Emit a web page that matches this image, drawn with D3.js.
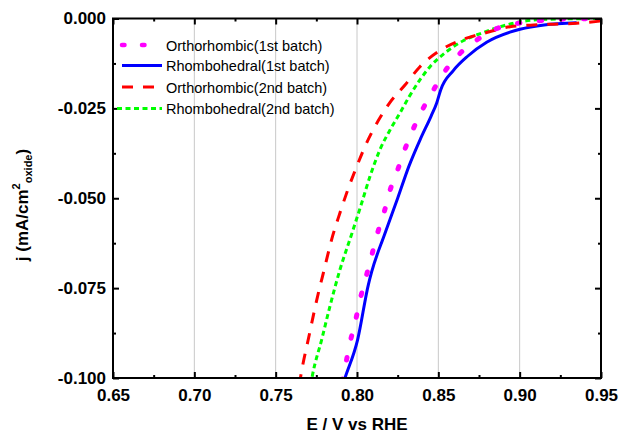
<!DOCTYPE html>
<html>
<head>
<meta charset="utf-8">
<script src="https://cdn.jsdelivr.net/npm/d3@7"></script>
<style>
  html, body { margin: 0; padding: 0; background: #fff; }
  svg { display: block; }
  .tick text { font-family: "Liberation Sans", Arial, sans-serif; font-weight: bold; font-size: 17px; fill: #000; }
  .tick line { stroke: #000; stroke-width: 2; }
</style>
</head>
<body>
<svg id="chart" width="622" height="433"></svg>
<script>
// Potential (V vs RHE) and current density (mA/cm^2 oxide) for each sample
const orthoFirstE = [0.791, 0.793, 0.7957, 0.799, 0.802, 0.8055, 0.809, 0.8125, 0.8166, 0.8203, 0.825, 0.8295, 0.8346, 0.8404, 0.8465, 0.8537, 0.8629, 0.873, 0.8838, 0.896, 0.9104, 0.9238, 0.95];
const orthoFirstJ = [-0.1010, -0.0963, -0.0902, -0.0842, -0.0780, -0.0720, -0.0660, -0.0599, -0.0540, -0.0478, -0.0421, -0.0363, -0.0307, -0.0252, -0.0203, -0.0149, -0.0099, -0.0062, -0.0032, -0.0016, -0.0007, -0.0002, 0.0000];

const rhomboFirstE = [0.790, 0.7926, 0.8004, 0.807, 0.809, 0.817, 0.825, 0.832, 0.839, 0.8455, 0.849, 0.8515, 0.8592, 0.868, 0.8797, 0.894, 0.9002, 0.915, 0.935];
const rhomboFirstJ = [-0.1036, -0.1000, -0.0893, -0.0740, -0.0705, -0.0600, -0.0500, -0.0410, -0.0335, -0.0272, -0.0235, -0.0198, -0.0145, -0.0105, -0.0066, -0.0038, -0.0030, -0.0018, -0.0012];

const orthoSecondE = [0.7645, 0.7654, 0.7707, 0.7752, 0.7799, 0.7844, 0.7895, 0.7947, 0.7998, 0.8049, 0.8131, 0.8203, 0.8295, 0.8387, 0.851, 0.8653, 0.8797, 0.894, 0.9084, 0.935, 0.95];
const orthoSecondJ = [-0.1020, -0.0995, -0.0879, -0.0784, -0.0697, -0.0615, -0.0541, -0.0472, -0.0412, -0.0356, -0.0284, -0.0233, -0.0185, -0.0134, -0.0089, -0.0058, -0.0039, -0.0023, -0.0018, -0.0013, -0.0007];

const rhomboSecondE = [0.7715, 0.7725, 0.7783, 0.7834, 0.7895, 0.797, 0.8029, 0.808, 0.8141, 0.8203, 0.8264, 0.832, 0.8449, 0.8551, 0.8653, 0.8776, 0.8919, 0.912, 0.95];
const rhomboSecondJ = [-0.1020, -0.0995, -0.0893, -0.0800, -0.0699, -0.0596, -0.0513, -0.0439, -0.0365, -0.0310, -0.0263, -0.0218, -0.0134, -0.0092, -0.0062, -0.0039, -0.0018, -0.0003, 0.0000];

const seriesNames = ["Orthorhombic(1st batch)", "Rhombohedral(1st batch)", "Orthorhombic(2nd batch)", "Rhombohedral(2nd batch)"];

const xTickValues = [0.65, 0.70, 0.75, 0.80, 0.85, 0.90, 0.95];
const xMinorTicks = [0.675, 0.725, 0.775, 0.825, 0.875, 0.925];
const xGridValues = [0.70, 0.75, 0.80, 0.85, 0.90];
const yTickValues = [0.000, -0.025, -0.050, -0.075, -0.100];
const yMinorTicks = [-0.0125, -0.0375, -0.0625, -0.0875];

const xTitle = "E / V vs RHE";

// Line styles per series
const styles = [
  { color: "#ff00ff", width: 5, dash: "2.5,19.5", cap: "round" },
  { color: "#0000ff", width: 3, dash: null, cap: "butt" },
  { color: "#ff0000", width: 3, dash: "11,10", cap: "butt" },
  { color: "#00ff00", width: 3, dash: "5,3.5", cap: "butt" }
];

const series = [
  d3.zip(orthoFirstE, orthoFirstJ),
  d3.zip(rhomboFirstE, rhomboFirstJ),
  d3.zip(orthoSecondE, orthoSecondJ),
  d3.zip(rhomboSecondE, rhomboSecondJ)
];

const svg = d3.select("#chart");
const plotLeft = 113, plotRight = 601, plotTop = 18.5, plotBottom = 378;

const x = d3.scaleLinear().domain([0.65, 0.95]).range([plotLeft, plotRight]);
const y = d3.scaleLinear().domain([-0.1, 0]).range([plotBottom, plotTop]);

svg.append("defs").append("clipPath").attr("id", "plot-clip")
  .append("rect").attr("x", plotLeft).attr("y", plotTop)
  .attr("width", plotRight - plotLeft).attr("height", plotBottom - plotTop);

// Vertical grid lines
svg.append("g").selectAll("line").data(xGridValues).join("line")
  .attr("x1", d => x(d)).attr("x2", d => x(d))
  .attr("y1", plotTop).attr("y2", plotBottom)
  .attr("stroke", "#c8c8c8").attr("stroke-width", 1);

// Curves
const line = d3.line().x(d => x(d[0])).y(d => y(d[1])).curve(d3.curveMonotoneX);
const curves = svg.append("g").attr("clip-path", "url(#plot-clip)");
// draw order: blue, green, red, magenta dots on top
[1, 3, 2, 0].forEach(i => {
  const s = styles[i];
  curves.append("path")
    .datum(series[i])
    .attr("d", line)
    .attr("fill", "none")
    .attr("stroke", s.color)
    .attr("stroke-width", s.width)
    .attr("stroke-linecap", s.cap)
    .attr("stroke-linejoin", "round")
    .attr("stroke-dasharray", s.dash);
});

// Axes: ticks point inward
const fmtX = d3.format(".2f");
const fmtY = d3.format(".3f");

svg.append("g").attr("transform", `translate(0,${plotBottom})`)
  .call(d3.axisBottom(x).tickValues(xTickValues).tickFormat(fmtX).tickSize(-6).tickPadding(11));
svg.append("g").attr("transform", `translate(0,${plotBottom})`)
  .call(d3.axisBottom(x).tickValues(xMinorTicks).tickFormat("").tickSize(-3));
svg.append("g").attr("transform", `translate(0,${plotTop})`)
  .call(d3.axisTop(x).tickValues(xTickValues).tickFormat("").tickSize(-6));
svg.append("g").attr("transform", `translate(0,${plotTop})`)
  .call(d3.axisTop(x).tickValues(xMinorTicks).tickFormat("").tickSize(-3));

svg.append("g").attr("transform", `translate(${plotLeft},0)`)
  .call(d3.axisLeft(y).tickValues(yTickValues).tickFormat(d => fmtY(d).replace("\u2212", "-")).tickSize(-6).tickPadding(7));
svg.append("g").attr("transform", `translate(${plotLeft},0)`)
  .call(d3.axisLeft(y).tickValues(yMinorTicks).tickFormat("").tickSize(-3));
svg.append("g").attr("transform", `translate(${plotRight},0)`)
  .call(d3.axisRight(y).tickValues(yTickValues).tickFormat("").tickSize(-6));
svg.append("g").attr("transform", `translate(${plotRight},0)`)
  .call(d3.axisRight(y).tickValues(yMinorTicks).tickFormat("").tickSize(-3));

svg.selectAll(".domain").remove();

// Frame
svg.append("rect")
  .attr("x", plotLeft).attr("y", plotTop)
  .attr("width", plotRight - plotLeft).attr("height", plotBottom - plotTop)
  .attr("fill", "none").attr("stroke", "#000").attr("stroke-width", 2);

// Axis titles
svg.append("text")
  .attr("x", (plotLeft + plotRight) / 2).attr("y", 430)
  .attr("text-anchor", "middle")
  .style("font-family", "'Liberation Sans', Arial, sans-serif")
  .style("font-weight", "bold").style("font-size", "17px")
  .text(xTitle);

const yt = svg.append("text")
  .attr("transform", "translate(28,205) rotate(-90)")
  .attr("text-anchor", "middle")
  .style("font-family", "'Liberation Sans', Arial, sans-serif")
  .style("font-weight", "bold").style("font-size", "17px");
yt.append("tspan").text("j (mA/cm");
yt.append("tspan").attr("dy", -8).style("font-size", "11px").text("2");
yt.append("tspan").attr("dy", 12).style("font-size", "11px").text("oxide");
yt.append("tspan").attr("dy", -4).text(")");

// Legend
const legend = svg.append("g");
const rowY = [45, 65.5, 87, 108.5];
seriesNames.forEach((name, i) => {
  const s = styles[i];
  legend.append("line")
    .attr("x1", i === 3 ? 117 : 122).attr("x2", 162)
    .attr("y1", rowY[i]).attr("y2", rowY[i])
    .attr("stroke", s.color).attr("stroke-width", s.width === 5 ? 4.5 : 3)
    .attr("stroke-linecap", s.cap)
    .attr("stroke-dasharray", i === 0 ? "2.5,17.5" : s.dash);
  legend.append("text")
    .attr("x", 166).attr("y", rowY[i] + 5.5)
    .style("font-family", "'Liberation Sans', Arial, sans-serif")
    .style("font-size", "14.5px")
    .text(name);
});
</script>
</body>
</html>
